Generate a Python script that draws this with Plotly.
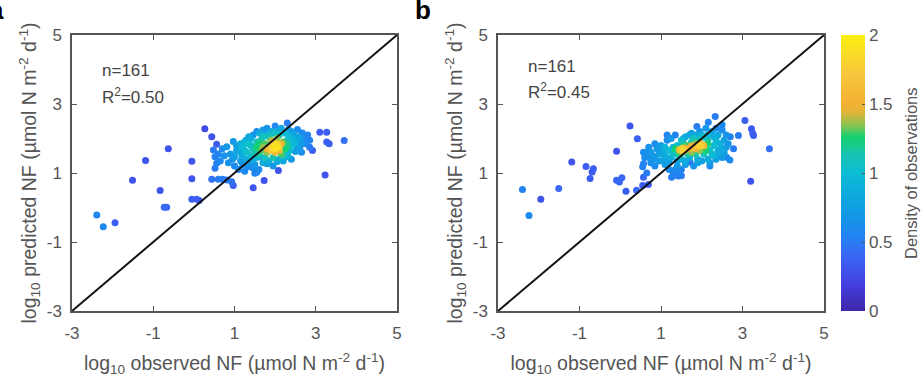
import numpy as np
import plotly.graph_objects as go

# ---------------- data ----------------
# panel a: observed (x), predicted (y), density (colour)
a_x = [-2.39, -2.23, -1.94, -1.51, -1.19, -0.83, -0.73, -0.67, -0.63, -0.05, -0.05, -0.05, 0.07, 0.13,
       0.27, 0.44, 0.56, 0.48, 0.52, 0.56, 0.52, 0.44, 0.60, 0.71, 0.81, 0.97, 0.93, 1.46, 1.73, 2.08,
       2.92, 3.10, 3.27, 3.27, 3.33, 3.23, 3.70,
       0.81, 0.97, 1.00, 1.12, 1.28, 1.33, 1.46, 1.50, 1.55, 1.60, 1.76, 2.00, 2.30, 2.33, 2.55, 2.67,
       2.71, 2.62, 2.50, 2.32, 2.05, 1.80, 1.63,
       1.05, 1.15, 1.20, 1.10, 1.25, 1.38, 0.90, 0.70, 0.75, 0.65, 0.85, 1.00, 1.40, 1.55, 1.70, 1.90,
       2.15, 2.45, 2.60, 2.75, 2.85, 2.80, 2.40, 2.20, 1.95, 1.70, 1.45,
       1.20, 1.30, 1.35, 1.45, 1.55, 1.60, 1.65, 1.75, 1.85, 1.95, 2.10, 2.20, 2.30, 2.40, 2.45, 2.35,
       1.25, 1.15, 1.40, 1.50, 2.50, 2.25, 1.95, 1.70,
       1.55, 1.65, 1.75, 1.80, 2.20, 2.25, 2.15, 1.90, 2.05, 1.60, 2.30, 1.70,
       1.85, 1.90, 1.95, 2.00, 2.05, 2.10, 2.00, 2.10, 1.95, 2.15, 1.80, 2.05, 2.00, 1.92,
       1.05, 1.18, 1.30, 1.35, 1.50, 1.62, 1.80, 2.05, 2.40, 2.55, 2.65, 2.30, 2.10, 1.85, 1.55, 1.25,
       1.40, 2.35, 2.55, 0.95, 0.60, 1.45, 2.65, 2.85]
a_y = [-0.22, -0.56, -0.44, 0.79, 1.36, 0.49, 0.01, 0.01, 1.70, 1.34, 0.83, 0.24, 0.24, 0.20,
       2.28, 2.05, 1.83, 1.67, 1.47, 1.28, 1.14, 0.82, 0.82, 0.82, 0.80, 0.64, 0.75, 0.57, 0.78, 1.07,
       1.65, 2.18, 2.18, 1.90, 1.85, 0.94, 1.94,
       1.76, 1.91, 1.47, 1.62, 1.95, 1.18, 2.10, 0.99, 1.02, 1.10, 2.10, 2.36, 2.45, 2.26, 2.26, 2.16,
       1.97, 1.78, 1.62, 1.47, 1.33, 1.27, 1.47,
       1.80, 1.35, 1.25, 1.10, 1.05, 1.28, 1.55, 1.70, 1.50, 1.35, 1.30, 1.20, 2.00, 2.20, 2.25, 2.20,
       2.30, 2.10, 2.00, 1.85, 1.95, 2.10, 1.40, 1.35, 1.20, 1.30, 1.40,
       1.75, 1.60, 1.85, 1.70, 1.90, 1.55, 1.95, 1.45, 2.05, 1.45, 2.10, 1.50, 1.95, 1.80, 1.95, 1.65,
       1.90, 1.85, 1.50, 1.60, 1.85, 2.15, 2.15, 2.05,
       1.75, 1.65, 1.85, 1.60, 1.90, 1.70, 1.55, 1.95, 2.00, 1.85, 1.80, 1.75,
       1.75, 1.65, 1.80, 1.70, 1.85, 1.75, 1.60, 1.65, 1.90, 1.85, 1.70, 1.75, 1.78, 1.72,
       1.65, 1.50, 1.40, 2.05, 1.25, 2.15, 2.30, 2.20, 2.20, 1.70, 1.90, 1.55, 1.40, 1.35, 1.45, 1.65,
       1.80, 2.05, 2.05, 1.40, 1.55, 1.15, 1.60, 1.75]
a_d = [0.55, 0.60, 0.35, 0.30, 0.30, 0.30, 0.40, 0.40, 0.30, 0.30, 0.30, 0.35, 0.35, 0.35,
       0.25, 0.30, 0.35, 0.50, 0.55, 0.55, 0.50, 0.45, 0.50, 0.50, 0.50, 0.35, 0.45, 0.30, 0.30, 0.30,
       0.35, 0.35, 0.35, 0.35, 0.35, 0.30, 0.45,
       0.70, 0.70, 0.75, 0.85, 0.80, 0.60, 0.70, 0.55, 0.55, 0.60, 0.80, 0.60, 0.50, 0.70, 0.60, 0.60,
       0.60, 0.70, 0.75, 0.85, 0.80, 0.75, 0.90,
       0.75, 0.70, 0.65, 0.55, 0.60, 0.70, 0.70, 0.60, 0.65, 0.60, 0.65, 0.60, 0.85, 0.60, 0.70, 0.85,
       0.80, 0.80, 0.80, 0.60, 0.55, 0.55, 0.70, 0.80, 0.70, 0.85, 0.85,
       1.00, 1.05, 1.00, 1.10, 1.10, 1.15, 1.15, 1.10, 1.10, 1.15, 1.10, 1.10, 1.05, 1.00, 0.95, 1.00,
       0.95, 0.90, 1.00, 1.15, 0.90, 1.00, 1.05, 1.10,
       1.25, 1.30, 1.30, 1.35, 1.30, 1.25, 1.30, 1.35, 1.35, 1.25, 1.20, 1.35,
       1.60, 1.70, 1.80, 1.85, 1.80, 1.75, 1.60, 1.60, 1.60, 1.55, 1.50, 1.90, 1.90, 1.80,
       0.80, 0.85, 0.85, 0.80, 0.70, 0.85, 0.65, 0.90, 0.75, 0.75, 0.70, 0.95, 0.90, 0.90, 0.95, 0.95,
       1.05, 0.95, 0.80, 0.65, 0.55, 0.60, 0.65, 0.50]

# panel b
b_x = [-2.40, -2.24, -1.95, -1.51, -1.19, -0.84, -0.74, -0.66, -0.69, -0.09, -0.09, 0.04, -0.02, 0.14,
       0.24, 0.42, 0.40, 0.55, 0.69, 0.57, 1.26, 1.42, 1.30, 1.50, 1.71, 1.88, 2.16, 2.33, 2.50, 2.61,
       2.69, 2.78, 2.90, 3.06, 3.22, 3.25, 3.27, 3.20, 3.66,
       0.57, 0.57, 0.55, 0.60, 0.70, 0.80, 0.75, 0.90, 0.95, 1.00, 1.10, 1.15, 1.20, 1.35, 1.40, 1.55,
       1.60, 1.75, 1.80, 1.95, 2.00, 2.10, 2.20, 2.25, 2.35, 2.40, 2.45, 2.55, 2.60, 2.65, 2.70, 2.50,
       1.30, 1.45, 1.50, 0.85, 0.65, 1.25, 1.00, 0.85, 1.30, 2.30, 2.50, 2.45, 1.90, 1.70, 2.15, 1.60,
       1.05, 1.15,
       1.20, 1.30, 1.40, 1.45, 1.55, 1.65, 1.75, 1.85, 1.95, 2.05, 2.15, 2.20, 2.30, 2.35, 1.10, 1.35,
       2.25, 2.05, 1.80, 1.50,
       1.35, 1.45, 1.55, 1.65, 1.75, 1.85, 1.95, 2.05, 2.15, 2.10, 1.60, 1.90,
       1.45, 1.50, 1.55, 1.60, 1.70, 1.80, 1.90, 1.95, 2.00, 2.05, 1.85, 1.52, 1.98, 1.75,
       0.65, 0.75, 0.85, 0.95, 1.05, 1.10, 1.20, 1.25, 1.40, 1.50, 1.60, 1.70, 1.85, 1.90, 2.00, 2.15,
       2.30, 2.40, 2.50, 2.55, 2.60, 2.35, 1.15, 0.70, 1.35, 2.20]
b_y = [0.52, -0.23, 0.24, 0.55, 1.32, 1.19, 0.84, 1.12, 1.03, 1.63, 0.79, 0.86, 0.74, 0.47,
       2.36, 1.99, 0.50, 0.64, 0.67, 0.88, 0.88, 0.91, 1.00, 1.10, 1.32, 2.35, 2.47, 2.64, 2.40, 1.46,
       1.38, 1.70, 2.09, 2.52, 2.28, 2.15, 2.09, 0.76, 1.70,
       1.60, 1.27, 1.18, 1.45, 1.75, 1.50, 1.30, 1.70, 1.35, 1.80, 1.25, 1.95, 1.10, 2.10, 1.20, 2.00,
       1.25, 2.15, 1.20, 2.20, 1.35, 2.30, 1.30, 2.20, 1.40, 2.10, 1.55, 1.95, 2.10, 1.85, 2.05, 2.25,
       0.95, 1.00, 0.92, 1.20, 1.00, 1.45, 1.55, 1.85, 1.75, 1.50, 1.70, 1.85, 1.40, 1.45, 2.10, 2.05,
       1.65, 1.40,
       1.65, 1.55, 1.80, 1.50, 1.85, 1.55, 1.90, 1.55, 1.95, 1.55, 1.95, 1.65, 1.80, 1.95, 1.75, 1.65,
       1.55, 2.05, 2.00, 1.95,
       1.70, 1.60, 1.75, 1.80, 1.60, 1.85, 1.65, 1.75, 1.85, 1.65, 1.65, 1.75,
       1.68, 1.65, 1.62, 1.70, 1.72, 1.75, 1.80, 1.78, 1.82, 1.80, 1.70, 1.70, 1.85, 1.78,
       1.60, 1.60, 1.40, 1.55, 1.35, 1.50, 1.30, 2.00, 1.35, 1.40, 1.35, 2.10, 2.10, 1.30, 2.10, 1.40,
       2.05, 1.65, 1.45, 1.60, 1.75, 2.30, 2.10, 1.45, 1.10, 1.20]
b_d = [0.55, 0.60, 0.30, 0.40, 0.30, 0.35, 0.35, 0.35, 0.35, 0.30, 0.40, 0.40, 0.40, 0.35,
       0.30, 0.35, 0.40, 0.35, 0.35, 0.40, 0.50, 0.50, 0.55, 0.55, 0.45, 0.50, 0.55, 0.50, 0.60, 0.60,
       0.60, 0.50, 0.50, 0.35, 0.35, 0.35, 0.35, 0.30, 0.45,
       0.60, 0.55, 0.55, 0.60, 0.65, 0.70, 0.60, 0.70, 0.70, 0.75, 0.70, 0.60, 0.60, 0.55, 0.70, 0.70,
       0.70, 0.75, 0.65, 0.70, 0.75, 0.70, 0.70, 0.80, 0.75, 0.80, 0.80, 0.75, 0.65, 0.70, 0.55, 0.60,
       0.55, 0.55, 0.50, 0.60, 0.50, 0.85, 0.80, 0.60, 0.90, 0.90, 0.85, 0.90, 0.85, 0.90, 0.95, 0.85,
       0.80, 0.80,
       1.00, 1.05, 1.05, 1.10, 1.15, 1.15, 1.15, 1.15, 1.15, 1.10, 1.10, 1.05, 1.00, 0.95, 0.95, 1.10,
       1.00, 1.05, 1.10, 1.00,
       1.25, 1.30, 1.35, 1.30, 1.35, 1.35, 1.35, 1.30, 1.25, 1.25, 1.35, 1.40,
       1.60, 1.75, 1.70, 1.60, 1.55, 1.60, 1.70, 1.80, 1.75, 1.60, 1.50, 1.80, 1.70, 1.55,
       0.65, 0.70, 0.70, 0.75, 0.75, 0.85, 0.75, 0.70, 0.80, 0.85, 0.85, 0.80, 0.85, 0.75, 0.90, 0.85,
       0.85, 0.85, 0.70, 0.75, 0.70, 0.60, 0.55, 0.65, 0.60, 0.60]

r2_labels = ["R<sup>2</sup>=0.50", "R<sup>2</sup>=0.45"]
n_label = "n=161"
tick_vals = [-3, -1, 1, 3, 5]
tick_text = ["-3", "-1", "1", "3", "5"]
cbar_ticks = [0, 0.5, 1, 1.5, 2]
cbar_text = ["0", "0.5", "1", "1.5", "2"]
cbar_title = "Density of observations"

# ---------------- style ----------------
W, H = 924, 380
FONT = "Arial, 'Liberation Sans', sans-serif"
GREY = "#555555"
parula_like = [
    [0.00, "#3e26a8"], [0.10, "#4340e0"], [0.20, "#3a68f5"], [0.28, "#1f86f0"],
    [0.38, "#10a0e2"], [0.50, "#0cbcd4"], [0.57, "#16c4b2"], [0.60, "#18cc8c"],
    [0.63, "#12d070"], [0.67, "#84c454"], [0.72, "#e2b43a"], [0.76, "#f5b233"],
    [0.86, "#f8c63c"], [1.00, "#f9f011"],
]

def px_x(p):
    return p / W

def px_y(p):
    return 1 - p / H

x_dom = {1: [px_x(72), px_x(397)], 2: [px_x(498), px_x(824)]}
y_dom = [px_y(311), px_y(35)]

fig = go.Figure()

for i, (xs, ys, ds) in enumerate([(a_x, a_y, a_d), (b_x, b_y, b_d)], start=1):
    order = np.argsort(np.array(ds), kind="stable")
    xs = np.array(xs)[order]
    ys = np.array(ys)[order]
    ds = np.array(ds)[order]
    xa = "x" if i == 1 else "x2"
    ya = "y" if i == 1 else "y2"
    marker = dict(size=7, color=ds, colorscale=parula_like, cmin=0, cmax=2,
                  line=dict(width=0))
    if i == 2:
        marker.update(showscale=True, colorbar=dict(
            x=px_x(841), xanchor="left", xpad=0, ypad=0,
            y=px_y(173), yanchor="middle", len=276 / H, lenmode="fraction",
            thickness=24, thicknessmode="pixels", outlinewidth=0,
            tickvals=cbar_ticks, ticktext=cbar_text,
            ticks="inside", ticklen=3, tickcolor=GREY,
            tickfont=dict(family=FONT, size=17, color=GREY),
        ))
    else:
        marker.update(showscale=False)
    fig.add_trace(go.Scatter(x=xs, y=ys, mode="markers", marker=marker,
                             xaxis=xa, yaxis=ya, showlegend=False, hoverinfo="skip"))
    fig.add_trace(go.Scatter(x=[tick_vals[0], tick_vals[-1]], y=[tick_vals[0], tick_vals[-1]],
                             mode="lines", line=dict(color="#111111", width=2),
                             xaxis=xa, yaxis=ya, showlegend=False, hoverinfo="skip"))

xtitle = "log<sub>10</sub> observed NF (µmol N m<sup>-2</sup> d<sup>-1</sup>)"
ytitle = "log<sub>10</sub> predicted NF (µmol N m<sup>-2</sup> d<sup>-1</sup>)"

axis_common = dict(range=[-3, 5], tickvals=tick_vals, ticktext=tick_text,
                   showgrid=False, zeroline=False,
                   showline=True, linecolor=GREY, linewidth=1.5, mirror="ticks",
                   ticks="inside", ticklen=5, tickwidth=1.2, tickcolor=GREY,
                   tickfont=dict(family=FONT, size=17, color=GREY), automargin=False)

layout = dict(
    width=W, height=H, margin=dict(l=0, r=0, t=0, b=0),
    paper_bgcolor="white", plot_bgcolor="white", showlegend=False,
    font=dict(family=FONT, color=GREY),
)
for i in (1, 2):
    sx = "" if i == 1 else "2"
    layout["xaxis" + sx] = dict(axis_common, domain=x_dom[i], anchor="y" + sx,
                                ticklabelstandoff=6,
                                title=dict(text=xtitle, standoff=14,
                                           font=dict(family=FONT, size=19.5, color=GREY)))
    layout["yaxis" + sx] = dict(axis_common, domain=y_dom, anchor="x" + sx,
                                ticklabelstandoff=5,
                                title=dict(text=ytitle, standoff=5,
                                           font=dict(family=FONT, size=19.5, color=GREY)))
fig.update_layout(**layout)

anns = []
for i, (ny, ry) in enumerate([(3.96, 3.23), (4.08, 3.39)], start=1):
    sx = "" if i == 1 else "2"
    anns.append(dict(x=-2.31, y=ny, xref="x" + sx, yref="y" + sx, text=n_label,
                     showarrow=False, xanchor="left", yanchor="middle",
                     font=dict(family=FONT, size=17, color="#444444")))
    anns.append(dict(x=-2.31, y=ry, xref="x" + sx, yref="y" + sx, text=r2_labels[i - 1],
                     showarrow=False, xanchor="left", yanchor="middle",
                     font=dict(family=FONT, size=17, color="#444444")))
anns.append(dict(x=px_x(911), y=px_y(173), xref="paper", yref="paper", text=cbar_title,
                 textangle=-90, showarrow=False, xanchor="center", yanchor="middle",
                 font=dict(family=FONT, size=16.5, color=GREY)))
anns.append(dict(x=px_x(-4), y=px_y(10), xref="paper", yref="paper", text="<b>a</b>",
                 showarrow=False, xanchor="center", yanchor="middle",
                 font=dict(family=FONT, size=26, color="black")))
anns.append(dict(x=px_x(423), y=px_y(10), xref="paper", yref="paper", text="<b>b</b>",
                 showarrow=False, xanchor="center", yanchor="middle",
                 font=dict(family=FONT, size=26, color="black")))
fig.update_layout(annotations=anns)

fig.write_html("out.html")
